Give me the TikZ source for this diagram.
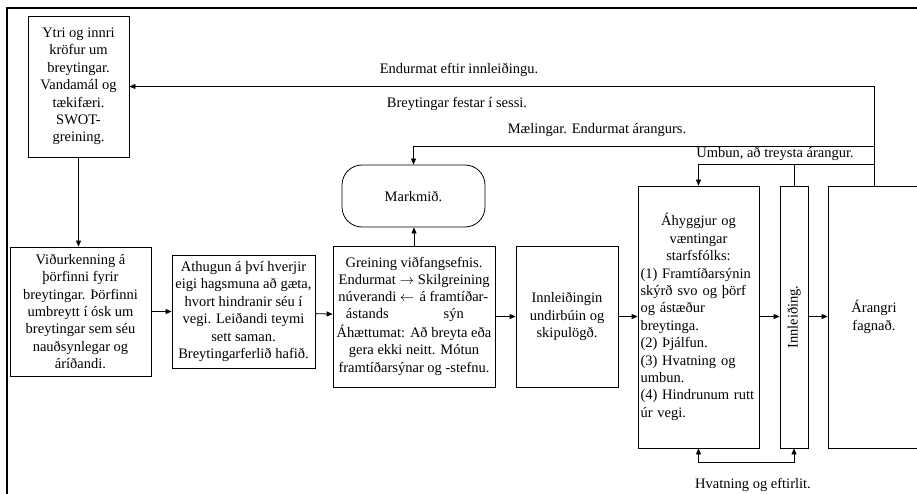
\documentclass[tikz,border=0pt]{standalone}
\usepackage{fontspec}
\setmainfont{Liberation Serif}
\usetikzlibrary{arrows.meta}

\begin{document}
\begin{tikzpicture}[x=1pt,y=-1pt,
        font=\fontsize{14.5}{17.4}\selectfont,
        box/.style={draw, line width=0.8pt, align=center, inner sep=2pt},
        link/.style={line width=0.8pt, -{Triangle[length=6pt,width=5pt]}},
        lbl/.style={inner sep=0pt}]

        \useasboundingbox (0,0) rectangle (917,494);
        \draw[line width=1.3pt] (917,8) -- (7,8) -- (7,494);

        \node[box, minimum width=101, minimum height=141] (ytri) at (78.5,86.5) {Ytri og innri\\kröfur um\\breytingar.\\Vandamál og\\tækifæri.\\SWOT-\\greining.};
        \node[box, minimum width=141, minimum height=129] (vidurk) at (80.5,311.5) {Viðurkenning á\\þörfinni fyrir\\breytingar. Þörfinni\\umbreytt í ósk um\\breytingar sem séu\\nauðsynlegar og\\áríðandi.};
        \node[box, minimum width=143, minimum height=113] (athugun) at (243.5,311.5) {Athugun á því hverjir\\eigi hagsmuna að gæta,\\hvort hindranir séu í\\vegi. Leiðandi teymi\\sett saman.\\Breytingarferlið hafið.};
        \node[box, minimum width=162, minimum height=141] (greining) at (414,316.5) {Greining viðfangsefnis.\\
            \begin{tabular}{@{}c@{ }c@{ }c@{}}Endurmat & $\rightarrow$ & Skilgreining\\núverandi & $\leftarrow$ & á framtíðar-\\ástands & & sýn\end{tabular}\\
            Áhættumat: Að breyta eða\\gera ekki neitt. Mótun\\framtíðarsýnar og -stefnu.};
        \node[box, minimum width=102, minimum height=141] (undirb) at (567,316.5) {Innleiðingin\\undirbúin og\\skipulögð.};
        \node[box, align=left, text width=116pt, inner xsep=2.5pt, minimum height=262] (ahyggjur) at (698.5,317) {{\centering Áhyggjur og\\væntingar\\starfsfólks:\par}\raggedright (1) Framtíðarsýnin\\skýrð svo og þörf\\og ástæður\\breytinga.\\(2) Þjálfun.\\(3) Hvatning og\\umbun.\\(4) Hindrunum rutt\\úr vegi.};
        \node[box, minimum width=28, minimum height=262] (innl) at (794,317) {\rotatebox{90}{Innleiðing.}};
        \node[box, minimum width=92, minimum height=262] (arangur) at (874,317) {Árangri\\fagnað.};
        \node[box, rounded corners=20pt, minimum width=143, minimum height=62] (markmid) at (413.5,196) {Markmið.};

        \coordinate (mael) at (arangur.north |- 0,146);
        \coordinate (umbun) at (arangur.north |- 0,164);

        \draw[link] (ytri) -- (ytri.south |- vidurk.north);
        \draw[link] (vidurk) -- (athugun);
        \draw[link] (athugun) -- (greining);
        \draw[link] (greining) -- (undirb);
        \draw[link] (undirb) -- (undirb.east -| ahyggjur.west);
        \draw[link] (ahyggjur.east |- undirb.east) -- (undirb.east -| innl.west);
        \draw[link] (innl.east |- undirb.east) -- (undirb.east -| arangur.west);
        \draw[link] (greining) -- (greining.north |- markmid.south);

        \draw[link] (arangur.north) |- (ytri.east);
        \draw[link] (mael) -| (markmid.north);
        \draw[link] (umbun) -| (ahyggjur.north);
        \draw[line width=0.8pt] (innl.north) -- (innl.north |- umbun);
        \draw[link, {Triangle[length=6pt,width=5pt]}-{Triangle[length=6pt,width=5pt]}] (ahyggjur.south) -- ++(0,14) -| (innl.south);

        \node[lbl] (l_endurmat) at (459,70) {Endurmat eftir innleiðingu.};
        \node[lbl] (l_festar) at (457,104) {Breytingar festar í sessi.};
        \node[lbl] (l_maelingar) at (597,130) {Mælingar. Endurmat árangurs.};
        \node[lbl] (l_umbun) at (775,154) {Umbun, að treysta árangur.};
        \node[lbl] (l_hvatning) at (753,485) {Hvatning og eftirlit.};

\end{tikzpicture}
\end{document}
